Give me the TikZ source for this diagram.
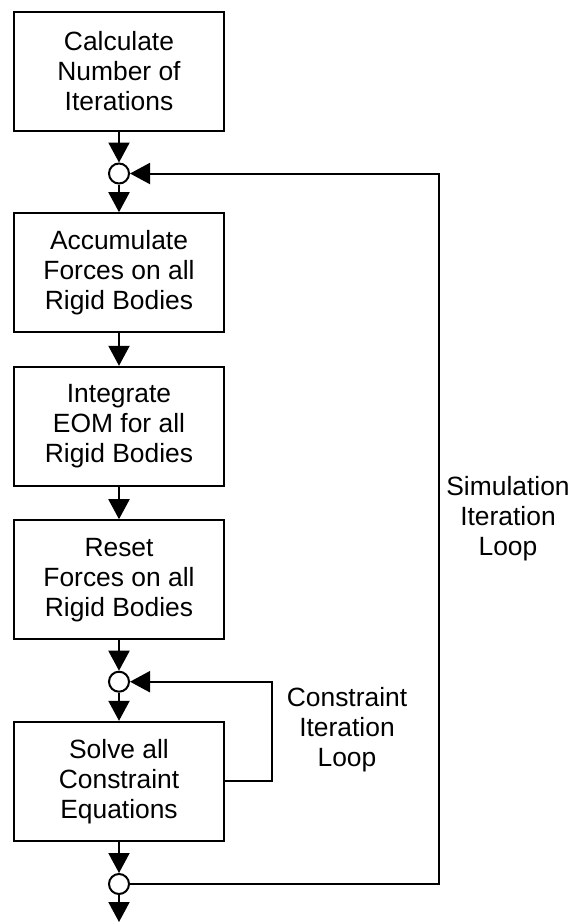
\documentclass[tikz,border=0pt]{standalone}
\usepackage{fontspec}
\setmainfont{Liberation Sans}
\usetikzlibrary{arrows.meta}

\begin{document}
\begin{tikzpicture}[x=0.5pt,y=-0.5pt,line width=1pt,
  stepbox/.style={draw,minimum width=105pt,minimum height=59.5pt,align=center,inner sep=0pt},
  junction/.style={draw,circle,minimum size=10pt,inner sep=0pt},
  arr/.style={-{Triangle[width=10.5pt,length=10pt]}},
  looplabel/.style={align=center}]
\useasboundingbox (0,0) rectangle (574,922);
\fontsize{13.2pt}{15pt}\selectfont
\node [stepbox] (calc) at (119,71) {Calculate\\Number of\\Iterations};
\node [junction] (j1) at (119,173.5) {};
\node [stepbox] (accum) at (119,272.7) {Accumulate\\Forces on all\\Rigid Bodies};
\node [stepbox] (integ) at (119,426.3) {Integrate\\EOM for all\\Rigid Bodies};
\node [stepbox] (reset) at (119,579.7) {Reset\\Forces on all\\Rigid Bodies};
\node [junction] (j2) at (119,681.7) {};
\node [stepbox] (solve) at (119,781.3) {Solve all\\Constraint\\Equations};
\node [junction] (j3) at (119,884) {};
\coordinate (out) at (119,922);
\node [looplabel] (cloop) at (347,730) {Constraint\\Iteration\\Loop};
\node [looplabel] (sloop) at (508,519) {Simulation\\Iteration\\Loop};
\draw [arr] (calc) -- (j1);
\draw [arr] (j1) -- (accum);
\draw [arr] (accum) -- (integ);
\draw [arr] (integ) -- (reset);
\draw [arr] (reset) -- (j2);
\draw [arr] (j2) -- (solve);
\draw [arr] (solve) -- (j3);
\draw [arr] (j3) -- (out);
\draw [arr] (solve.east) -- ++(47,0) |- (j2);
\draw [arr] (j3.east) -- ++(309,0) |- (j1);
\end{tikzpicture}
\end{document}
